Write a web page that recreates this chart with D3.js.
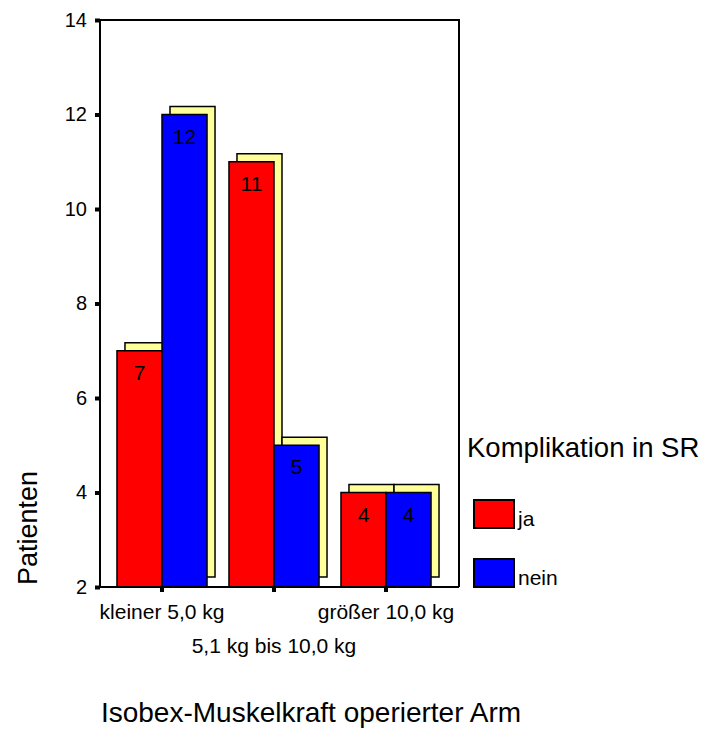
<!DOCTYPE html>
<html>
<head>
<meta charset="utf-8">
<script src="https://cdn.jsdelivr.net/npm/d3@7.9.0/dist/d3.min.js"></script>
<style>
  body { margin: 0; background: #fff; }
  svg { display: block; font-family: "Liberation Sans", Arial, sans-serif; }
</style>
</head>
<body>
<svg id="chart" width="705" height="729"></svg>
<script>
// data
const categories = ['kleiner 5,0 kg', '5,1 kg bis 10,0 kg', 'größer 10,0 kg'];
const seriesNames = ['ja', 'nein'];
const jaValues   = [7, 11, 4];
const neinValues = [12, 5, 4];
const yTicks = [2, 4, 6, 8, 10, 12, 14];

const colors = { ja: '#ff0000', nein: '#0000ff' };
const shadowColor = '#ffff99';

const svg = d3.select('#chart');

// plot frame
const plotLeft = 100, plotRight = 459, plotTop = 20, plotBottom = 587;

const y = d3.scaleLinear().domain([2, 14]).range([plotBottom, plotTop]);
const x0 = d3.scaleBand().domain(categories).range([106, 442])
  .paddingInner(0.196).paddingOuter(0.098);
const x1 = d3.scaleBand().domain(seriesNames).range([0, x0.bandwidth()]);

const rows = categories.flatMap((c, i) => [
  { cat: c, key: 'ja', value: jaValues[i] },
  { cat: c, key: 'nein', value: neinValues[i] }
]);

// frame (top + right)
svg.append('path')
  .attr('d', `M${plotLeft},${plotTop}H${plotRight}V${plotBottom}`)
  .attr('fill', 'none').attr('stroke', '#000').attr('stroke-width', 2);

// shadows first
const off = 8;
svg.append('g').selectAll('rect').data(rows).join('rect')
  .attr('x', d => x0(d.cat) + x1(d.key) + off)
  .attr('y', d => y(d.value) - off)
  .attr('width', x1.bandwidth())
  .attr('height', d => (plotBottom - 10) - (y(d.value) - off))
  .attr('fill', shadowColor)
  .attr('stroke', '#000').attr('stroke-width', 1.5);

// bars
svg.append('g').selectAll('rect').data(rows).join('rect')
  .attr('x', d => x0(d.cat) + x1(d.key))
  .attr('y', d => y(d.value))
  .attr('width', x1.bandwidth())
  .attr('height', d => plotBottom - y(d.value))
  .attr('fill', d => colors[d.key])
  .attr('stroke', '#000').attr('stroke-width', 1.5);

// value labels
svg.append('g').selectAll('text').data(rows).join('text')
  .attr('x', d => x0(d.cat) + x1(d.key) + x1.bandwidth() / 2)
  .attr('y', d => y(d.value) + 29)
  .attr('text-anchor', 'middle')
  .attr('font-size', 21)
  .text(d => d.value);

// y axis
const yAxis = svg.append('g')
  .attr('transform', `translate(${plotLeft},0)`)
  .call(d3.axisLeft(y).tickValues(yTicks).tickSize(5).tickPadding(8));
yAxis.select('.domain').attr('stroke-width', 2).attr('d', `M0,${plotTop}V${plotBottom}`);
yAxis.selectAll('.tick line').attr('stroke-width', 4);
yAxis.selectAll('.tick text')
  .attr('font-size', 20).attr('fill', '#000')
  .attr('font-family', '"Liberation Sans", Arial, sans-serif');

// x axis
const xAxis = svg.append('g')
  .attr('transform', `translate(0,${plotBottom})`)
  .call(d3.axisBottom(x0).tickSize(5).tickFormat(''));
xAxis.select('.domain').attr('stroke-width', 2).attr('d', `M${plotLeft},0H${plotRight}`);
xAxis.selectAll('.tick line').attr('stroke-width', 4);

// staggered category labels
svg.append('g').selectAll('text').data(categories).join('text')
  .attr('x', d => x0(d) + x0.bandwidth() / 2)
  .attr('y', (d, i) => i % 2 === 0 ? 619 : 653)
  .attr('text-anchor', 'middle')
  .attr('font-size', 21)
  .text(d => d);

// axis titles
svg.append('text')
  .attr('x', 311).attr('y', 722)
  .attr('text-anchor', 'middle')
  .attr('font-size', 28)
  .text('Isobex-Muskelkraft operierter Arm');

svg.append('text')
  .attr('transform', 'translate(37,528) rotate(-90)')
  .attr('text-anchor', 'middle')
  .attr('font-size', 27)
  .text('Patienten');

// legend
svg.append('text')
  .attr('x', 467).attr('y', 457)
  .attr('font-size', 27.5)
  .text('Komplikation in SR');

const legend = svg.append('g').selectAll('g').data(seriesNames).join('g')
  .attr('transform', (d, i) => `translate(474,${500 + i * 59})`);
legend.append('rect')
  .attr('width', 40).attr('height', 28)
  .attr('fill', d => colors[d])
  .attr('stroke', '#000').attr('stroke-width', 2);
legend.append('text')
  .attr('x', 44).attr('y', 26)
  .attr('font-size', 21)
  .text(d => d);
</script>
</body>
</html>
